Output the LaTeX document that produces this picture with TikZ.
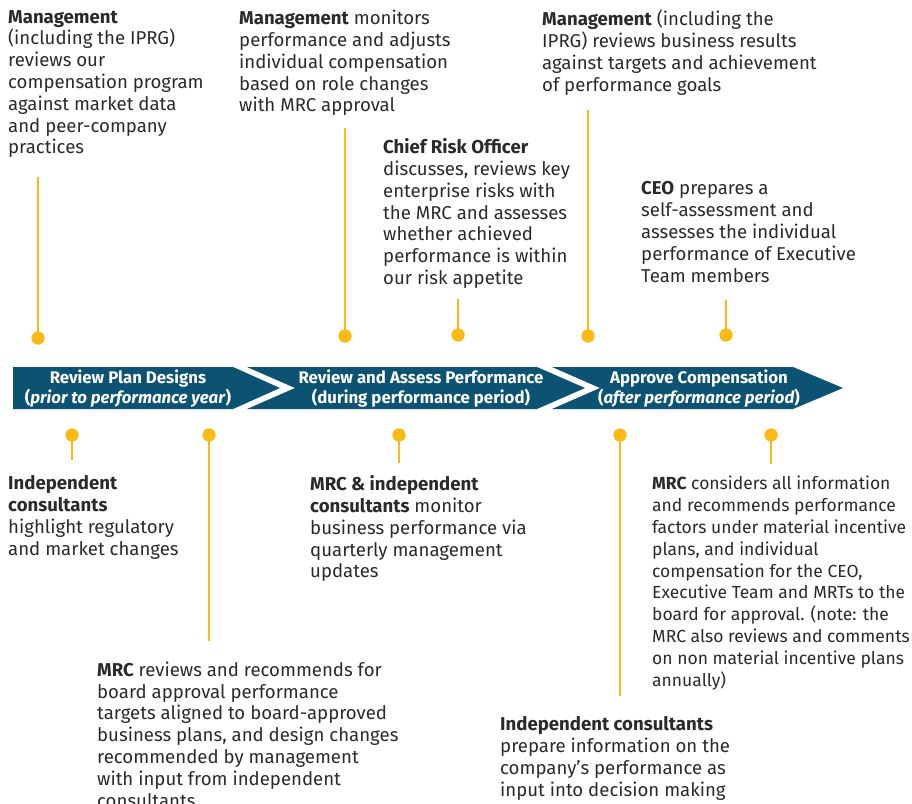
\documentclass[tikz,border=0pt]{standalone}
\usepackage{fontspec}
\setmainfont{Fira Sans}
\definecolor{teal}{HTML}{0B5273}
\definecolor{gold}{HTML}{FBBA16}
\definecolor{txtcol}{HTML}{2A2A2A}
\begin{document}
\begin{tikzpicture}[x=1pt,y=-1pt]
\useasboundingbox (0,0) rectangle (912,803);
\tikzset{
 txt/.style={anchor=north west, inner sep=0pt, align=left, text=txtcol, font=\fontsize{18.6}{21.8}\selectfont},
 txtnarrow/.style={txt, font=\fontsize{17.5}{21.8}\selectfont},
 dot/.style={circle, fill=gold, minimum size=13pt, inner sep=0pt},
 stem/.style={draw=gold, line width=1.6pt},
 band/.style={fill=teal},
 bandtxt/.style={text=white, font=\fontsize{16.8}{20}\selectfont\bfseries, align=center, inner sep=0pt}
}
% chevron band
\fill[band] (13,367) -- (233,367) -- (280,388) -- (233,409) -- (13,409) -- cycle;
\fill[band] (247,367) -- (537,367) -- (585,388) -- (537,409) -- (247,409) -- (295,388) -- cycle;
\fill[band] (552,367) -- (793,367) -- (843,388) -- (793,409) -- (552,409) -- (600,388) -- cycle;
\node[bandtxt] (b1) at (128,388.5) {Review Plan Designs\\(\textit{prior to performance year})};
\node[bandtxt] (b2) at (421,388.5) {Review and Assess Performance\\(during performance period)};
\node[bandtxt] (b3) at (699,388.5) {Approve Compensation\\(\textit{after performance period})};

% top texts
\node[txt] (ta) at (8,10) {\textbf{Management}\\(including the IPRG)\\reviews our\\compensation program\\against market data\\and peer-company\\practices};
\node[txt] (tb) at (239,10) {\textbf{Management} monitors\\performance and adjusts\\individual compensation\\based on role changes\\with MRC approval};
\node[txt] (tc) at (383,138.5) {\textbf{Chief Risk Officer}\\discusses, reviews key\\enterprise risks with\\the MRC and assesses\\whether achieved\\performance is within\\our risk appetite};
\node[txt] (td) at (542,10) {\textbf{Management} (including the\\IPRG) reviews business results\\against targets and achievement\\of performance goals};
\node[txt] (te) at (641,181.5) {\textbf{CEO} prepares a\\self-assessment and\\assesses the individual\\performance of Executive\\Team members};

% bottom texts
\node[txt] (bf) at (8,475.5) {\textbf{Independent}\\\textbf{consultants}\\highlight regulatory\\and market changes};
\node[txt] (bg) at (310,475.5) {\textbf{MRC \& independent}\\\textbf{consultants} monitor\\business performance via\\quarterly management\\updates};
\node[txtnarrow] (bh) at (652,476) {\textbf{MRC} considers all information\\and recommends performance\\factors under material incentive\\plans, and individual\\compensation for the CEO,\\Executive Team and MRTs to the\\board for approval. (note: the\\MRC also reviews and comments\\on non material incentive plans\\annually)};
\node[txt] (bi) at (97,661.5) {\textbf{MRC} reviews and recommends for\\board approval performance\\targets aligned to board-approved\\business plans, and design changes\\recommended by management\\with input from independent\\consultants};
\node[txt] (bj) at (500,716.5) {\textbf{Independent consultants}\\prepare information on the\\company’s performance as\\input into decision making};

% top dots and stems
\node[dot] (d1) at (38,338) {};
\node[dot] (d2) at (345,336) {};
\node[dot] (d3) at (458,335) {};
\node[dot] (d4) at (588,336) {};
\node[dot] (d5) at (726,335) {};
\coordinate (s1) at (38,177);
\coordinate (s2) at (345,128);
\coordinate (s3) at (458,299);
\coordinate (s4) at (588,110);
\coordinate (s5) at (726,300);
\foreach \i in {1,...,5} \draw[stem] (d\i.center) -- (s\i);
\foreach \i in {1,...,5} \node[dot] at (d\i) {};

% bottom dots and stems
\node[dot] (e1) at (72,435) {};
\node[dot] (e2) at (209,435) {};
\node[dot] (e3) at (399,435) {};
\node[dot] (e4) at (620,435) {};
\node[dot] (e5) at (771,435) {};
\coordinate (u1) at (72,460);
\coordinate (u2) at (209,641);
\coordinate (u3) at (399,463);
\coordinate (u4) at (620,696);
\coordinate (u5) at (771,464);
\foreach \i in {1,...,5} \draw[stem] (e\i.center) -- (u\i);
\foreach \i in {1,...,5} \node[dot] at (e\i) {};
\end{tikzpicture}
\end{document}
